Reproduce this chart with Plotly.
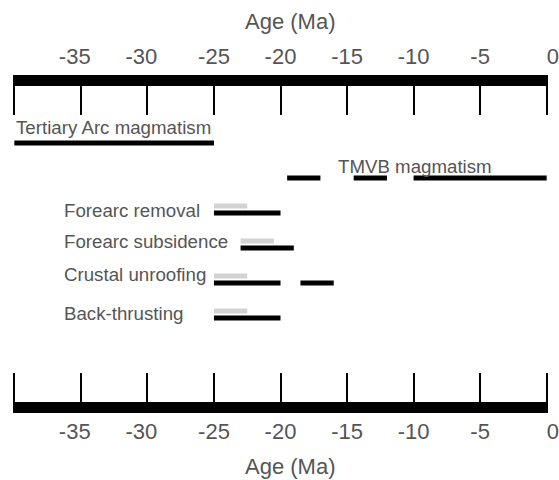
import plotly.graph_objects as go

# ---- data ----
NB = "\u00a0"
tick_vals = [-40, -35, -30, -25, -20, -15, -10, -5, 0]
tick_text = ["", "-35" + NB * 2, "-30" + NB * 2, "-25", "-20", "-15", "-10", "-5", NB * 2 + "0"]
axis_title = "Age (Ma)"

tertiary_arc = [(-40, -25)]
tmvb = [(-19.5, -17), (-14.5, -12), (-10, 0)]

process_names = ["Forearc removal", "Forearc subsidence", "Crustal unroofing", "Back-thrusting"]
process_black = [[(-25, -20)], [(-23, -19)], [(-25, -20), (-18.5, -16)], [(-25, -20)]]
process_grey = [[(-25, -22.5)], [(-23, -20.5)], [(-25, -22.5)], [(-25, -22.5)]]

# ---- layout helpers ----
TXT = "#555555"
FONT = "Liberation Sans, Arial, sans-serif"
GREY_OFF = -0.2
label_shift = [-0.06, -0.2, -0.23, -0.14]


def seg_trace(segs, row, color, width=5, xaxis="x"):
    xs, ys = [], []
    for a, b in segs:
        xs += [a, b, None]
        ys += [row, row, None]
    return go.Scatter(x=xs, y=ys, mode="lines", xaxis=xaxis,
                      line=dict(color=color, width=width),
                      hoverinfo="skip", showlegend=False)


fig = go.Figure()
fig.add_trace(seg_trace(tertiary_arc, 0, "black"))
fig.add_trace(seg_trace(tmvb, 1, "black"))
for i, name in enumerate(process_names):
    row = 2 + i
    fig.add_trace(seg_trace(process_grey[i], row + GREY_OFF, "#d3d3d3"))
    fig.add_trace(seg_trace(process_black[i], row, "black"))

# invisible trace to anchor top axis
fig.add_trace(go.Scatter(x=tick_vals, y=[0] * len(tick_vals), xaxis="x2", mode="markers",
                         marker=dict(opacity=0), hoverinfo="skip", showlegend=False))

annotations = [
    dict(x=-40, y=0, text="Tertiary Arc magmatism", xanchor="left", yanchor="middle",
         xshift=0, yshift=16, showarrow=False, font=dict(size=18.7, color=TXT, family=FONT)),
    dict(x=-9.9, y=1, text="TMVB magmatism", xanchor="center", yanchor="middle",
         yshift=12, showarrow=False, font=dict(size=18.7, color=TXT, family=FONT)),
    # axis titles
    dict(x=-19.3, xref="x", y=1, yref="paper", text=axis_title, xanchor="center",
         yanchor="middle", yshift=65, showarrow=False,
         font=dict(size=22, color=TXT, family=FONT)),
    dict(x=-19.3, xref="x", y=0, yref="paper", text=axis_title, xanchor="center",
         yanchor="middle", yshift=-64, showarrow=False,
         font=dict(size=22, color=TXT, family=FONT)),
]
for i, name in enumerate(process_names):
    annotations.append(dict(x=-36.4, y=2 + i + label_shift[i], text=name, xanchor="left",
                            yanchor="middle", showarrow=False,
                            font=dict(size=18.7, color=TXT, family=FONT)))

axis_common = dict(
    range=[-40.1, 0.1], tickvals=tick_vals, ticktext=tick_text,
    showline=True, linewidth=11, linecolor="black",
    ticks="inside", ticklen=29, tickwidth=1.5, tickcolor="black",
    showgrid=False, zeroline=False, automargin=False,
    tickfont=dict(size=22, color=TXT, family=FONT),
)

fig.update_layout(
    width=559, height=480,
    margin=dict(l=13, r=11, t=86, b=78),
    paper_bgcolor="white", plot_bgcolor="white",
    xaxis=dict(**axis_common, side="bottom", anchor="y"),
    xaxis2=dict(**axis_common, side="top", overlaying="x", anchor="y", ticklabelstandoff=2),
    yaxis=dict(range=[7.4, -1.63], visible=False, showgrid=False, zeroline=False),
    annotations=annotations,
    font=dict(family=FONT, color=TXT),
)

fig.write_html("out.html")
